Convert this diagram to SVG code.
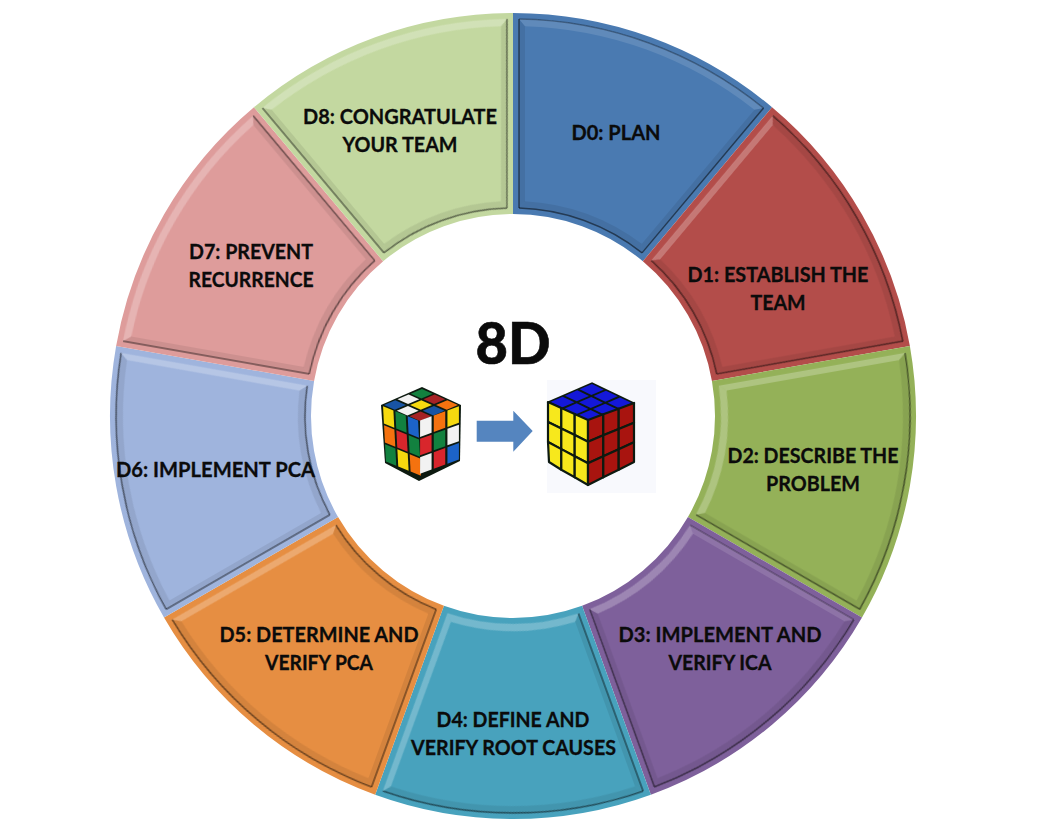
<svg xmlns="http://www.w3.org/2000/svg" width="1042" height="837" viewBox="0 0 1042 837">
<style>
text{font-family:"Lato","Carlito","Open Sans","Liberation Sans",sans-serif;font-weight:700;fill:#0b0b0b;stroke:#0b0b0b;stroke-width:.3;text-anchor:middle;font-size:21.5px}
.title{font-size:57px;font-weight:900;stroke-width:.6}
.hi{fill:#fff;fill-opacity:.24;stroke:#fff;stroke-opacity:.03}
.mi{fill:#fff;fill-opacity:.12;stroke:#000;stroke-opacity:.3}
.lo{fill:#000;fill-opacity:.08;stroke:#000;stroke-opacity:.5}
.c0{fill:#4a7ab1}.c1{fill:#b34d4a}.c2{fill:#94b158}.c3{fill:#7e609b}.c4{fill:#48a2bd}.c5{fill:#e68e42}.c6{fill:#9fb4dd}.c7{fill:#de9c9b}.c8{fill:#c3d8a0}
.y{fill:#f5d90f}.b{fill:#1c63c8}.r{fill:#d8262c}.g{fill:#12813f}.o{fill:#f4720f}.w{fill:#f2f2f2}.k{fill:#0d1a10}
.s polygon{stroke:#0d1a10;stroke-width:2.2;stroke-linejoin:round}
.B{fill:#1418d8}.R{fill:#a8140f}.Y{fill:#f7e81c}
</style>
<defs>
<filter id="soft" x="-5%" y="-5%" width="110%" height="110%"><feGaussianBlur stdDeviation="0.6"/></filter>
<path id="seg" d="M0-403A403 403 0 0 1 259.04-308.72L129.84-154.74A202 202 0 0 0 0-202Z"/>
<g id="eO" filter="url(#soft)"><path stroke="none" d="M6-396.95A397 397 0 0 1 250.56-307.93L241.37-306.3A390 390 0 0 0 12-389.8Z"/><path fill="none" stroke-width="1.5" d="M6-396.95A397 397 0 0 1 250.56-307.93"/></g>
<g id="eI" filter="url(#soft)"><path stroke="none" d="M6-207.9A208 208 0 0 1 129.04-163.11L128.79-172.14A215 215 0 0 0 12-214.66Z"/><path fill="none" stroke-width="1.5" d="M6-207.9A208 208 0 0 1 129.04-163.11"/></g>
<g id="eL" filter="url(#soft)"><path stroke="none" d="M6-396.95L6-207.9L12-214.66L12-389.8Z"/><path fill="none" stroke-width="1.5" d="M6-396.95L6-207.9"/></g>
<g id="eR" filter="url(#soft)"><path stroke="none" d="M250.56-307.93L129.04-163.11L128.79-172.14L241.37-306.3Z"/><path fill="none" stroke-width="1.5" d="M250.56-307.93L129.04-163.11"/></g>
</defs>

<g id="D0"><g transform="translate(513 416) rotate(0)"><use href="#seg" class="c0"/><use href="#eO" class="mi"/><use href="#eI" class="lo"/><use href="#eL" class="lo"/><use href="#eR" class="lo"/></g>
<text x="616" y="140" textLength="89" lengthAdjust="spacingAndGlyphs">D0: PLAN</text></g>

<g id="D1"><g transform="translate(513 416) rotate(40)"><use href="#seg" class="c1"/><use href="#eO" class="lo"/><use href="#eI" class="lo"/><use href="#eL" class="hi"/><use href="#eR" class="lo"/></g>
<text x="778" y="282" textLength="181" lengthAdjust="spacingAndGlyphs">D1: ESTABLISH THE</text><text x="778" y="310" textLength="55" lengthAdjust="spacingAndGlyphs">TEAM</text></g>

<g id="D2"><g transform="translate(513 416) rotate(80)"><use href="#seg" class="c2"/><use href="#eO" class="lo"/><use href="#eI" class="hi"/><use href="#eL" class="hi"/><use href="#eR" class="lo"/></g>
<text x="813" y="463" textLength="171" lengthAdjust="spacingAndGlyphs">D2: DESCRIBE THE</text><text x="813" y="491" textLength="94" lengthAdjust="spacingAndGlyphs">PROBLEM</text></g>

<g id="D3"><g transform="translate(513 416) rotate(120)"><use href="#seg" class="c3"/><use href="#eO" class="lo"/><use href="#eI" class="hi"/><use href="#eL" class="mi"/><use href="#eR" class="lo"/></g>
<text x="720" y="642" textLength="203" lengthAdjust="spacingAndGlyphs">D3: IMPLEMENT AND</text><text x="720" y="670" textLength="103" lengthAdjust="spacingAndGlyphs">VERIFY ICA</text></g>

<g id="D4"><g transform="translate(513 416) rotate(160)"><use href="#seg" class="c4"/><use href="#eO" class="lo"/><use href="#eI" class="hi"/><use href="#eL" class="lo"/><use href="#eR" class="hi"/></g>
<text x="513" y="727" textLength="153" lengthAdjust="spacingAndGlyphs">D4: DEFINE AND</text><text x="513.5" y="755" textLength="205" lengthAdjust="spacingAndGlyphs">VERIFY ROOT CAUSES</text></g>

<g id="D5"><g transform="translate(513 416) rotate(200)"><use href="#seg" class="c5"/><use href="#eO" class="lo"/><use href="#eI" class="lo"/><use href="#eL" class="lo"/><use href="#eR" class="hi"/></g>
<text x="319" y="642" textLength="199" lengthAdjust="spacingAndGlyphs">D5: DETERMINE AND</text><text x="319" y="670" textLength="108" lengthAdjust="spacingAndGlyphs">VERIFY PCA</text></g>

<g id="D6"><g transform="translate(513 416) rotate(240)"><use href="#seg" class="c6"/><use href="#eO" class="lo"/><use href="#eI" class="lo"/><use href="#eL" class="lo"/><use href="#eR" class="hi"/></g>
<text x="215.5" y="477" textLength="199" lengthAdjust="spacingAndGlyphs">D6: IMPLEMENT PCA</text></g>

<g id="D7"><g transform="translate(513 416) rotate(280)"><use href="#seg" class="c7"/><use href="#eO" class="hi"/><use href="#eI" class="lo"/><use href="#eL" class="lo"/><use href="#eR" class="lo"/></g>
<text x="251" y="259" textLength="124" lengthAdjust="spacingAndGlyphs">D7: PREVENT</text><text x="251" y="287" textLength="125" lengthAdjust="spacingAndGlyphs">RECURRENCE</text></g>

<g id="D8"><g transform="translate(513 416) rotate(320)"><use href="#seg" class="c8"/><use href="#eO" class="hi"/><use href="#eI" class="lo"/><use href="#eL" class="lo"/><use href="#eR" class="lo"/></g>
<text x="400" y="124" textLength="194" lengthAdjust="spacingAndGlyphs">D8: CONGRATULATE</text><text x="400" y="152" textLength="115" lengthAdjust="spacingAndGlyphs">YOUR TEAM</text></g>

<g id="center">
<text class="title" x="513" y="364" textLength="75" lengthAdjust="spacingAndGlyphs">8D</text>
</g>

<g id="cube-scrambled">
<polygon class="k" points="422,387 461,405 460,461 419,481 385,463 381,405"/>
<g transform="matrix(12.67 5.67 -13.33 5.67 422 388)">
<rect class="g" x=".08" y=".08" width=".84" height=".84"/><rect class="r" x="1.08" y=".08" width=".84" height=".84" opacity=".75"/><rect class="o" x="2.08" y=".08" width=".84" height=".84"/>
<rect class="w" x=".08" y="1.08" width=".84" height=".84"/><rect class="y" x="1.08" y="1.08" width=".84" height=".84"/><rect class="b" x="2.08" y="1.08" width=".84" height=".84" opacity=".8"/>
<rect class="b" x=".08" y="2.08" width=".84" height=".84" opacity=".8"/><rect class="w" x="1.08" y="2.08" width=".84" height=".84"/><rect class="r" x="2.08" y="2.08" width=".84" height=".84" opacity=".75"/>
</g>
<g transform="matrix(12.33 5 1 19 382 405)">
<rect class="y" x=".08" y=".05" width=".84" height=".9"/><rect class="g" x="1.08" y=".05" width=".84" height=".9"/><rect class="b" x="2.08" y=".05" width=".84" height=".9"/>
<rect class="o" x=".08" y="1.05" width=".84" height=".9"/><rect class="r" x="1.08" y="1.05" width=".84" height=".9"/><rect class="g" x="2.08" y="1.05" width=".84" height=".9"/>
<rect class="g" x=".08" y="2.05" width=".84" height=".9"/><rect class="y" x="1.08" y="2.05" width=".84" height=".9"/><rect class="o" x="2.08" y="2.05" width=".84" height=".9"/>
</g>
<g transform="matrix(13.67 -5 0 18.33 419 420)">
<rect class="w" x=".08" y=".05" width=".84" height=".9"/><rect class="o" x="1.08" y=".05" width=".84" height=".9"/><rect class="y" x="2.08" y=".05" width=".84" height=".9"/>
<rect class="r" x=".08" y="1.05" width=".84" height=".9"/><rect class="g" x="1.08" y="1.05" width=".84" height=".9"/><rect class="w" x="2.08" y="1.05" width=".84" height=".9"/>
<rect class="w" x=".08" y="2.05" width=".84" height=".9"/><rect class="r" x="1.08" y="2.05" width=".84" height=".9"/><rect class="b" x="2.08" y="2.05" width=".84" height=".9"/>
</g>
</g>

<g id="connectors">
<polygon points="476.7,420.7 513.3,420.7 513.3,410.7 532.7,431 513.3,451.7 513.3,441.7 476.7,441.7" fill="#5585bf"/>
</g>

<g id="cube-solved">
<rect x="547" y="380" width="109" height="113" fill="#f8f9fd"/>
<g transform="matrix(14 6.67 -14.67 6.33 592 383)">
<rect class="k" x="-.05" y="-.05" width="3.1" height="3.1"/>
<rect class="B" x=".08" y=".08" width=".84" height=".84"/><rect class="B" x="1.08" y=".08" width=".84" height=".84"/><rect class="B" x="2.08" y=".08" width=".84" height=".84"/>
<rect class="B" x=".08" y="1.08" width=".84" height=".84"/><rect class="B" x="1.08" y="1.08" width=".84" height=".84"/><rect class="B" x="2.08" y="1.08" width=".84" height=".84"/>
<rect class="B" x=".08" y="2.08" width=".84" height=".84"/><rect class="B" x="1.08" y="2.08" width=".84" height=".84"/><rect class="B" x="2.08" y="2.08" width=".84" height=".84"/>
</g>
<g class="s">
<polygon class="Y" points="548,402 561.3,408 561.3,428.6 548,422"/><polygon class="Y" points="561.3,408 574.7,414 574.7,435.1 561.3,428.6"/><polygon class="Y" points="574.7,414 588,420 588,441.7 574.7,435.1"/>
<polygon class="Y" points="548,422 561.3,428.6 561.3,449.1 548,442"/><polygon class="Y" points="561.3,428.6 574.7,435.1 574.7,456.2 561.3,449.1"/><polygon class="Y" points="574.7,435.1 588,441.7 588,463.3 574.7,456.2"/>
<polygon class="Y" points="548,442 561.3,449.1 561.3,469.7 549,462"/><polygon class="Y" points="561.3,449.1 574.7,456.2 574.7,477.3 561.3,469.7"/><polygon class="Y" points="574.7,456.2 588,463.3 588,485 574.7,477.3"/>
<polygon class="R" points="588,420 603.3,414.3 603.3,435.3 588,441.7"/><polygon class="R" points="603.3,414.3 618.7,408.7 618.7,428.9 603.3,435.3"/><polygon class="R" points="618.7,408.7 634,403 634,422.7 618.7,428.9"/>
<polygon class="R" points="588,441.7 603.3,435.3 603.3,456.3 588,463.3"/><polygon class="R" points="603.3,435.3 618.7,428.9 618.7,449.3 603.3,456.3"/><polygon class="R" points="618.7,428.9 634,422.7 634,442.3 618.7,449.3"/>
<polygon class="R" points="588,463.3 603.3,456.3 603.3,477.3 588,485"/><polygon class="R" points="603.3,456.3 618.7,449.3 618.7,469.7 603.3,477.3"/><polygon class="R" points="618.7,449.3 634,442.3 634,462 618.7,469.7"/>
</g>
</g>
</svg>
